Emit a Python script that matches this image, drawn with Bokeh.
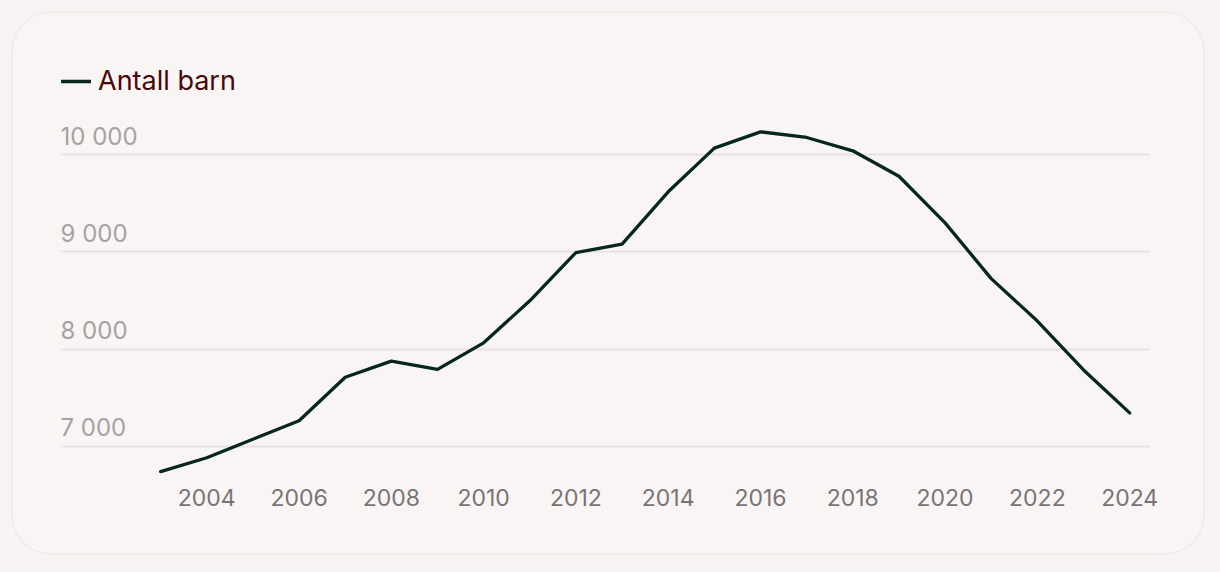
from bokeh.plotting import figure
from bokeh.models import (Range1d, FixedTicker, Legend, LegendItem, LabelSet,
                          ColumnDataSource, GlobalInlineStyleSheet)
from bokeh.core.properties import value
from bokeh.embed import file_html
from bokeh.resources import INLINE

# ---- data ----
years = [2003, 2004, 2005, 2006, 2007, 2008, 2009, 2010, 2011, 2012, 2013,
         2014, 2015, 2016, 2017, 2018, 2019, 2020, 2021, 2022, 2023, 2024]
antall_barn = [6742, 6884, 7075, 7265, 7711, 7877, 7792, 8065, 8497, 8993, 9079,
               9617, 10066, 10233, 10175, 10038, 9777, 9298, 8725, 8289, 7786, 7345]
series_name = "Antall barn"
x_ticks = [2004, 2006, 2008, 2010, 2012, 2014, 2016, 2018, 2020, 2022, 2024]
y_ticks = [7000, 8000, 9000, 10000]
y_tick_labels = ["7 000", "8 000", "9 000", "10 000"]

FONT = "Inter"
BG = "#f9f5f4"
x_start, x_end = 2000.83, 2024.43

p = figure(width=1194, height=544, output_backend="svg", toolbar_location=None,
           x_range=Range1d(x_start, x_end), y_range=Range1d(6671, 10966),
           min_border_left=47, min_border_right=58, min_border_top=47,
           min_border_bottom=79)
p.background_fill_color = BG
p.border_fill_color = BG
p.outline_line_color = None
p.styles = {"border-radius": "40px", "border": "2px solid #f1ebea",
            "overflow": "hidden", "margin": "11px"}
p.stylesheets = [GlobalInlineStyleSheet(css="body{background:#f8f4f3;}")]

# grid
p.xgrid.visible = False
p.ygrid.ticker = FixedTicker(ticks=y_ticks)
p.ygrid.grid_line_color = "#e9e1e1"
p.ygrid.grid_line_width = 2

# axes
p.yaxis.visible = False
p.xaxis.ticker = FixedTicker(ticks=x_ticks)
p.xaxis.axis_line_color = None
p.xaxis.major_tick_line_color = None
p.xaxis.minor_tick_line_color = None
p.xaxis.major_label_text_font = FONT
p.xaxis.major_label_text_font_size = "23px"
p.xaxis.major_label_text_color = "#787473"
p.xaxis.major_label_standoff = 4

# y labels above gridlines
ysrc = ColumnDataSource(dict(x=[x_start] * len(y_ticks), y=y_ticks, t=y_tick_labels))
p.add_layout(LabelSet(x="x", y="y", text="t", source=ysrc, text_font=value(FONT),
                      text_font_size=value("24px"), text_color="#a6a2a1",
                      text_baseline="alphabetic", y_offset=10, x_offset=0))

src = ColumnDataSource(dict(x=years, y=antall_barn))
r = p.line("x", "y", source=src, line_color="#06271a", line_width=3.3,
           line_join="round", line_cap="round")

legend = Legend(items=[LegendItem(label=series_name, renderers=[r])],
                location=(1, 381), orientation="horizontal",
                label_text_font=FONT, label_text_font_size="27px",
                label_text_color="#4a0808", glyph_width=30, glyph_height=24,
                label_standoff=7, padding=0, margin=0, spacing=0,
                border_line_color=None, background_fill_alpha=0)
p.add_layout(legend, "center")

open("out.html", "w").write(file_html(p, INLINE))
